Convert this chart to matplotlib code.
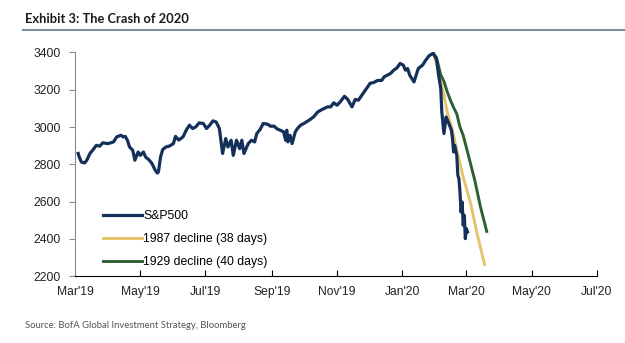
import pandas as pd
import matplotlib.pyplot as plt
import matplotlib.dates as mdates
from matplotlib.lines import Line2D

plt.rcParams['font.family'] = ['Liberation Sans', 'DejaVu Sans']

# --- data ---
spx_dates = [
    '2019-03-04', '2019-03-05', '2019-03-07', '2019-03-10', '2019-03-12', '2019-03-15',
    '2019-03-18', '2019-03-21', '2019-03-24', '2019-03-27', '2019-04-01', '2019-04-06',
    '2019-04-09', '2019-04-13', '2019-04-15', '2019-04-17', '2019-04-19', '2019-04-21',
    '2019-04-24', '2019-04-26', '2019-04-29', '2019-05-01', '2019-05-04', '2019-05-06',
    '2019-05-09', '2019-05-12', '2019-05-15', '2019-05-17', '2019-05-18', '2019-05-20',
    '2019-05-22', '2019-05-25', '2019-05-28', '2019-06-01', '2019-06-03', '2019-06-06',
    '2019-06-10', '2019-06-13', '2019-06-16', '2019-06-19', '2019-06-22', '2019-06-25',
    '2019-06-29', '2019-07-02', '2019-07-05', '2019-07-08', '2019-07-11', '2019-07-14',
    '2019-07-17', '2019-07-20', '2019-07-22', '2019-07-25', '2019-07-27', '2019-07-30',
    '2019-08-02', '2019-08-04', '2019-08-06', '2019-08-10', '2019-08-13', '2019-08-16',
    '2019-08-18', '2019-08-21', '2019-08-24', '2019-08-28', '2019-08-31', '2019-09-03',
    '2019-09-06', '2019-09-10', '2019-09-12', '2019-09-14', '2019-09-15', '2019-09-16',
    '2019-09-18', '2019-09-20', '2019-09-23', '2019-09-25', '2019-09-28', '2019-10-01',
    '2019-10-06', '2019-10-10', '2019-10-14', '2019-10-18', '2019-10-23', '2019-10-26',
    '2019-10-29', '2019-11-01', '2019-11-04', '2019-11-08', '2019-11-11', '2019-11-15',
    '2019-11-18', '2019-11-21', '2019-11-26', '2019-11-29', '2019-12-02', '2019-12-05',
    '2019-12-09', '2019-12-12', '2019-12-13', '2019-12-15', '2019-12-18', '2019-12-21',
    '2019-12-24', '2019-12-27', '2019-12-30', '2020-01-01', '2020-01-02', '2020-01-04',
    '2020-01-06', '2020-01-08', '2020-01-10', '2020-01-12', '2020-01-13', '2020-01-16',
    '2020-01-20', '2020-01-23', '2020-01-26', '2020-01-28', '2020-01-30', '2020-02-02',
    '2020-02-04', '2020-02-06', '2020-02-07', '2020-02-09', '2020-02-10', '2020-02-11',
    '2020-02-13', '2020-02-16', '2020-02-17', '2020-02-18', '2020-02-19', '2020-02-21',
    '2020-02-22', '2020-02-23', '2020-02-24', '2020-02-25', '2020-02-26', '2020-02-27',
    '2020-02-28', '2020-02-29', '2020-03-01', '2020-03-02',
]
spx_values = [
    2858, 2839, 2812, 2807, 2822, 2858, 2879, 2902, 2897, 2915, 2911, 2920,
    2947, 2956, 2947, 2950, 2929, 2893, 2875, 2822, 2866, 2848, 2866, 2839,
    2825, 2804, 2768, 2753, 2759, 2839, 2879, 2893, 2897, 2911, 2950, 2930,
    2947, 2983, 3010, 2992, 3001, 3022, 3019, 2992, 3010, 3033, 3027, 2992,
    2858, 2938, 2893, 2929, 2848, 2929, 2884, 2929, 2858, 2911, 2929, 2920,
    2965, 2986, 3019, 3015, 3004, 3005, 2990, 2980, 2974, 2929, 2983, 2920,
    2956, 2911, 2974, 2992, 3010, 3019, 3037, 3054, 3081, 3094, 3108, 3108,
    3130, 3117, 3135, 3165, 3148, 3108, 3148, 3144, 3185, 3210, 3235, 3238,
    3250, 3250, 3251, 3269, 3278, 3287, 3305, 3317, 3341, 3335, 3332, 3305,
    3314, 3278, 3260, 3242, 3260, 3314, 3332, 3359, 3382, 3389, 3395, 3370,
    3278, 3207, 3081, 2965, 3010, 3054, 3027, 2983, 2938, 2866, 2902, 2848,
    2741, 2723, 2651, 2544, 2598, 2473, 2527, 2401, 2455, 2437,
]

d1987_dates = ['2020-01-30', '2020-02-03', '2020-02-06', '2020-02-09', '2020-02-12', '2020-02-17',
               '2020-02-21', '2020-02-27', '2020-03-05', '2020-03-11', '2020-03-18']
d1987_values = [3395, 3323, 3242, 3171, 3081, 2983, 2875, 2732, 2589, 2428, 2262]

d1929_dates = ['2020-01-30', '2020-02-03', '2020-02-06', '2020-02-09', '2020-02-12', '2020-02-15',
               '2020-02-18', '2020-02-21', '2020-02-24', '2020-02-27', '2020-03-03', '2020-03-09',
               '2020-03-14', '2020-03-20']
d1929_values = [3395, 3350, 3280, 3245, 3190, 3145, 3105, 3070, 3000, 2955, 2845, 2710, 2575, 2440]

labels = ['S&P500', '1987 decline (38 days)', '1929 decline (40 days)']
colors = ['#14305a', '#e6c36b', '#2f5e33']

# --- figure ---
fig = plt.figure(figsize=(6.25, 3.43), dpi=100)
ax = fig.add_axes([0.12, 0.195, 0.835, 0.652])

ax.plot(pd.to_datetime(spx_dates), spx_values, color=colors[0], lw=2.3, label=labels[0], zorder=3)
ax.plot(pd.to_datetime(d1987_dates), d1987_values, color=colors[1], lw=2.1, label=labels[1], zorder=2)
ax.plot(pd.to_datetime(d1929_dates), d1929_values, color=colors[2], lw=2.1, label=labels[2], zorder=2)

ax.set_xlim(pd.Timestamp('2019-03-01'), pd.Timestamp('2020-07-01'))
ax.set_ylim(2200, 3400)
ax.set_yticks(range(2200, 3401, 200))
ax.xaxis.set_major_locator(mdates.MonthLocator(bymonth=[1, 3, 5, 7, 9, 11]))
ax.xaxis.set_major_formatter(mdates.DateFormatter("%b'%y"))

# axis styling
for s in ['top', 'right']:
    ax.spines[s].set_visible(False)
ax.spines['left'].set_color('#8c8c8c')
ax.spines['bottom'].set_color('#000000')
ax.tick_params(axis='y', direction='out', length=4, color='#8c8c8c', labelsize=8.7,
               labelcolor='#222222', pad=6)
ax.tick_params(axis='x', direction='in', length=4, color='#000000', labelsize=8.7,
               labelcolor='#222222', pad=7)

ax.legend(loc='lower left', bbox_to_anchor=(0.045, 0.015), frameon=False, fontsize=8.8,
          handlelength=3.2, handletextpad=0.05, labelspacing=0.9, borderaxespad=0)

# title, rule and source
fig.text(0.04, 0.945, 'Exhibit 3: The Crash of 2020', fontsize=9.3, fontweight='bold',
         family=['Lato', 'DejaVu Sans'], va='center', color='#1a1a1a')
fig.add_artist(Line2D([0.037, 1.0], [0.912, 0.912], color='#7f8c99', lw=1.5))
fig.text(0.04, 0.05, 'Source: BofA Global Investment Strategy, Bloomberg', fontsize=6.8,
         family=['Lato', 'DejaVu Sans'], va='center', color='#555555')

fig.savefig('out.png', dpi=100)
